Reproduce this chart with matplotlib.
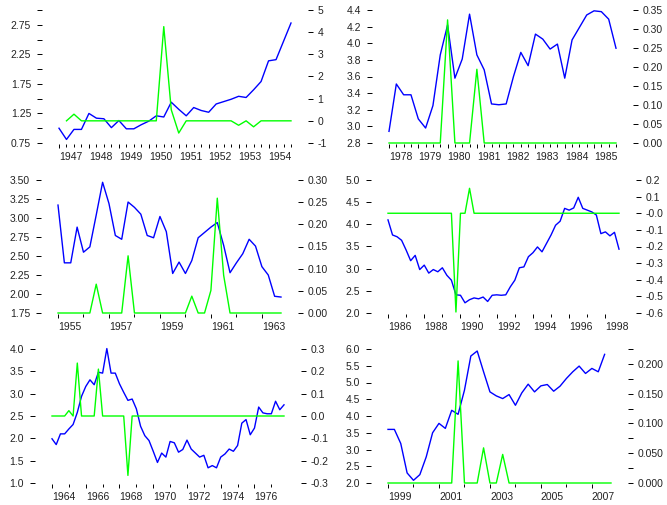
import numpy as np
import matplotlib.pyplot as plt

plt.rcParams['font.family'] = ['Liberation Sans', 'DejaVu Sans']
plt.rcParams['font.size'] = 7.5

nan = np.nan

# quarterly series, blue on left axis, green on right axis
start1 = 1947
blue1 = [1.00, 0.81, 0.98, 0.98, 1.25, 1.17, 1.16, 1.01, 1.13, 0.99, 0.99, 1.06, 1.12, 1.21, 1.19, 1.44,
         1.32, 1.21, 1.35, 1.30, 1.27, 1.41, 1.45, 1.49, 1.54, 1.52, 1.65, 1.79, 2.14, 2.16, 2.47, 2.78]
green1 = [nan, 0, 0.3, 0, 0, 0, 0, 0, 0, 0, 0, 0, 0, 0, 4.25, 0.5,
          -0.55, 0, 0, 0, 0, 0, 0, 0, -0.2, 0, -0.27, 0, 0, 0, 0, 0]

start2 = 1978
blue2 = [2.94, 3.51, 3.38, 3.38, 3.09, 2.98, 3.25, 3.86, 4.22, 3.58, 3.81, 4.35, 3.86, 3.68, 3.27, 3.26,
         3.27, 3.60, 3.89, 3.73, 4.11, 4.05, 3.93, 3.99, 3.58, 4.04, 4.19, 4.34, 4.39, 4.38, 4.29, 3.94]
green2 = [0, 0, 0, 0, 0, 0, 0, 0, 0.324, 0, 0, 0, 0.194, 0, 0, 0,
          0, 0, 0, 0, 0, 0, 0, 0, 0, 0, 0, 0, 0, 0, 0, 0]

start3 = 1955
blue3 = [3.17, 2.41, 2.41, 2.88, 2.55, 2.62, 3.04, 3.47, 3.19, 2.77, 2.72, 3.21, 3.14, 3.05, 2.77, 2.74,
         3.02, 2.82, 2.27, 2.42, 2.27, 2.44, 2.74, 2.81, 2.88, 2.94, 2.64, 2.28, 2.41, 2.53, 2.72, 2.63,
         2.36, 2.25, 1.97, 1.96]
green3 = [0, 0, 0, 0, 0, 0, 0.065, 0, 0, 0, 0, 0.129, 0, 0, 0, 0,
          0, 0, 0, 0, 0, 0.038, 0, 0, 0.051, 0.259, 0.085, 0, 0, 0, 0, 0,
          0, 0, 0, 0]

start4 = 1986
blue4 = [4.10, 3.76, 3.72, 3.64, 3.42, 3.18, 3.30, 2.98, 3.08, 2.90, 2.98, 2.93, 3.02, 2.85, 2.74, 2.41,
         2.40, 2.23, 2.30, 2.34, 2.32, 2.36, 2.26, 2.40, 2.41, 2.40, 2.41, 2.59, 2.74, 3.02, 3.04, 3.27,
         3.36, 3.49, 3.38, 3.57, 3.76, 3.98, 4.07, 4.36, 4.32, 4.37, 4.61, 4.36, 4.32, 4.28, 4.21, 3.79,
         3.83, 3.74, 3.82, 3.44]
green4 = [0, 0, 0, 0, 0, 0, 0, 0, 0, 0, 0, 0, 0, 0, 0, -0.594,
          0, 0, 0.15, 0, 0, 0, 0, 0, 0, 0, 0, 0, 0, 0, 0, 0,
          0, 0, 0, 0, 0, 0, 0, 0, 0, 0, 0, 0, 0, 0, 0, 0,
          0, 0, 0, 0]

start5 = 1964
blue5 = [1.99, 1.86, 2.10, 2.10, 2.21, 2.31, 2.58, 2.94, 3.16, 3.31, 3.20, 3.48, 3.46, 4.01, 3.46, 3.46,
         3.22, 3.03, 2.85, 2.88, 2.66, 2.27, 2.06, 1.95, 1.71, 1.46, 1.67, 1.58, 1.93, 1.90, 1.69, 1.75,
         1.96, 1.76, 1.67, 1.58, 1.62, 1.34, 1.39, 1.34, 1.58, 1.65, 1.76, 1.71, 1.84, 2.34, 2.42, 2.08,
         2.23, 2.70, 2.57, 2.55, 2.55, 2.83, 2.64, 2.75]
green5 = [0, 0, 0, 0, 0.024, 0, 0.237, 0, 0, 0, 0, 0.21, 0, 0, 0, 0,
          0, 0, -0.266, 0, 0, 0, 0, 0, 0, 0, 0, 0, 0, 0, 0, 0,
          0, 0, 0, 0, 0, 0, 0, 0, 0, 0, 0, 0, 0, 0, 0, 0,
          0, 0, 0, 0, 0, 0, 0, 0]

start6 = 1999
blue6 = [3.60, 3.60, 3.18, 2.30, 2.08, 2.25, 2.78, 3.50, 3.78, 3.63, 4.17, 4.05, 4.77, 5.79, 5.94, 5.32,
         4.72, 4.60, 4.52, 4.64, 4.32, 4.69, 4.95, 4.72, 4.90, 4.94, 4.74, 4.89, 5.12, 5.32, 5.49, 5.27,
         5.42, 5.32, 5.84, nan]
green6 = [0, 0, 0, 0, 0, 0, 0, 0, 0, 0, 0, 0.205, 0, 0, 0, 0.059,
          0, 0, 0.048, 0, 0, 0, 0, 0, 0, 0, 0, 0, 0, 0, 0, 0,
          0, 0, 0, 0]

# axis ticks and labels
lt1 = [0.75, 1.0, 1.25, 1.5, 1.75, 2.0, 2.25, 2.5, 2.75, 3.0]
ll1 = ['0.75', '', '1.25', '', '1.75', '', '2.25', '', '2.75', '']
rt1 = [-1, 0, 1, 2, 3, 4, 5]
rl1 = ['-1', '0', '1', '2', '3', '4', '5']
lt2 = [2.8, 3.0, 3.2, 3.4, 3.6, 3.8, 4.0, 4.2, 4.4]
ll2 = ['2.8', '3.0', '3.2', '3.4', '3.6', '3.8', '4.0', '4.2', '4.4']
rt2 = [0, 0.05, 0.1, 0.15, 0.2, 0.25, 0.3, 0.35]
rl2 = ['0.00', '0.05', '0.10', '0.15', '0.20', '0.25', '0.30', '0.35']
lt3 = [1.75, 2.0, 2.25, 2.5, 2.75, 3.0, 3.25, 3.5]
ll3 = ['1.75', '2.00', '2.25', '2.50', '2.75', '3.00', '3.25', '3.50']
rt3 = [0, 0.05, 0.1, 0.15, 0.2, 0.25, 0.3]
rl3 = ['0.00', '0.05', '0.10', '0.15', '0.20', '0.25', '0.30']
lt4 = [2.0, 2.5, 3.0, 3.5, 4.0, 4.5, 5.0]
ll4 = ['2.0', '2.5', '3.0', '3.5', '4.0', '4.5', '5.0']
rt4 = [-0.6, -0.5, -0.4, -0.3, -0.2, -0.1, 0.0, 0.1, 0.2]
rl4 = ['-0.6', '-0.5', '-0.4', '-0.3', '-0.2', '-0.1', '-0.0', '0.1', '0.2']
lt5 = [1.0, 1.5, 2.0, 2.5, 3.0, 3.5, 4.0]
ll5 = ['1.0', '1.5', '2.0', '2.5', '3.0', '3.5', '4.0']
rt5 = [-0.3, -0.2, -0.1, 0.0, 0.1, 0.2, 0.3]
rl5 = ['-0.3', '-0.2', '-0.1', '0.0', '0.1', '0.2', '0.3']
lt6 = [2.0, 2.5, 3.0, 3.5, 4.0, 4.5, 5.0, 5.5, 6.0]
ll6 = ['2.0', '2.5', '3.0', '3.5', '4.0', '4.5', '5.0', '5.5', '6.0']
rt6 = [0, 0.025, 0.05, 0.075, 0.1, 0.125, 0.15, 0.175, 0.2, 0.225]
rl6 = ['0.000', '', '0.050', '', '0.100', '', '0.150', '', '0.200', '']

xmaj1 = list(range(1947, 1955))
xmin1 = list(np.arange(1947, 1954.8, 0.25))
xmaj2 = list(range(1978, 1986))
xmin2 = list(np.arange(1978, 1985.8, 0.25))
xmaj3 = [1955, 1957, 1959, 1961, 1963]
xmin3 = [1956, 1958, 1960, 1962]
xmaj4 = [1986, 1988, 1990, 1992, 1994, 1996, 1998]
xmin4 = [1987, 1989, 1991, 1993, 1995, 1997]
xmaj5 = [1964, 1966, 1968, 1970, 1972, 1974, 1976]
xmin5 = [1965, 1967, 1969, 1971, 1973, 1975, 1977]
xmaj6 = [1999, 2001, 2003, 2005, 2007]
xmin6 = [2000, 2002, 2004, 2006]

W, H = 667, 505
fig = plt.figure(figsize=(W / 100, H / 100), dpi=100)

panels = [
    (start1, blue1, green1, (59, 291, 10, 143), lt1, ll1, rt1, rl1, xmaj1, xmin1),
    (start2, blue2, green2, (389, 616, 10, 143), lt2, ll2, rt2, rl2, xmaj2, xmin2),
    (start3, blue3, green3, (58, 281, 180, 313), lt3, ll3, rt3, rl3, xmaj3, xmin3),
    (start4, blue4, green4, (388, 619, 180, 313), lt4, ll4, rt4, rl4, xmaj4, xmin4),
    (start5, blue5, green5, (52, 284, 349, 483), lt5, ll5, rt5, rl5, xmaj5, xmin5),
    (start6, blue6, green6, (388, 611, 349, 483), lt6, ll6, rt6, rl6, xmaj6, xmin6),
]

off = 12.2  # points, y axes pushed away from the data
txt = '#222222'

for start, blue, green, box, lt, ll, rt, rl, xmaj, xmin in panels:
    x0, x1, yt, yb = box
    ax = fig.add_axes([x0 / W, 1 - yb / H, (x1 - x0) / W, (yb - yt) / H])
    ax.patch.set_visible(False)
    t = start + 0.25 * np.arange(len(blue))
    ax.plot(t, blue, color='#0000ff', lw=1.0, clip_on=False)
    ax.set_xlim(t[0], t[-1])
    ax.set_ylim(lt[0], lt[-1])
    for s in ax.spines.values():
        s.set_visible(False)
    ax.spines['left'].set_position(('outward', off))
    ax.spines['bottom'].set_position(('outward', 0.5))
    ax.tick_params(axis='y', length=3.4, width=0.7, pad=4.5, labelsize=7.5, labelcolor=txt)
    ax.tick_params(axis='x', which='major', length=3.2, width=0.7, pad=3.0, labelsize=7.5,
                   labelcolor=txt)
    ax.tick_params(axis='x', which='minor', length=1.8, width=0.7)
    ax.set_yticks(lt, ll)
    ax.set_xticks(xmin, minor=True)
    ax.set_xticks(xmaj, [str(y) for y in xmaj])

    ax2 = ax.twinx()
    ax2.plot(t, green, color='#00ff00', lw=1.0, clip_on=False)
    ax2.set_ylim(rt[0], rt[-1])
    for s in ax2.spines.values():
        s.set_visible(False)
    ax2.spines['right'].set_position(('outward', off))
    ax2.tick_params(axis='y', length=3.4, width=0.7, pad=3.5, labelsize=7.5, labelcolor=txt)
    ax2.set_yticks(rt, rl)

    # year labels start at their tick
    for lab in ax.get_xticklabels():
        lab.set_horizontalalignment('left')

fig.savefig('out.png', dpi=100)
